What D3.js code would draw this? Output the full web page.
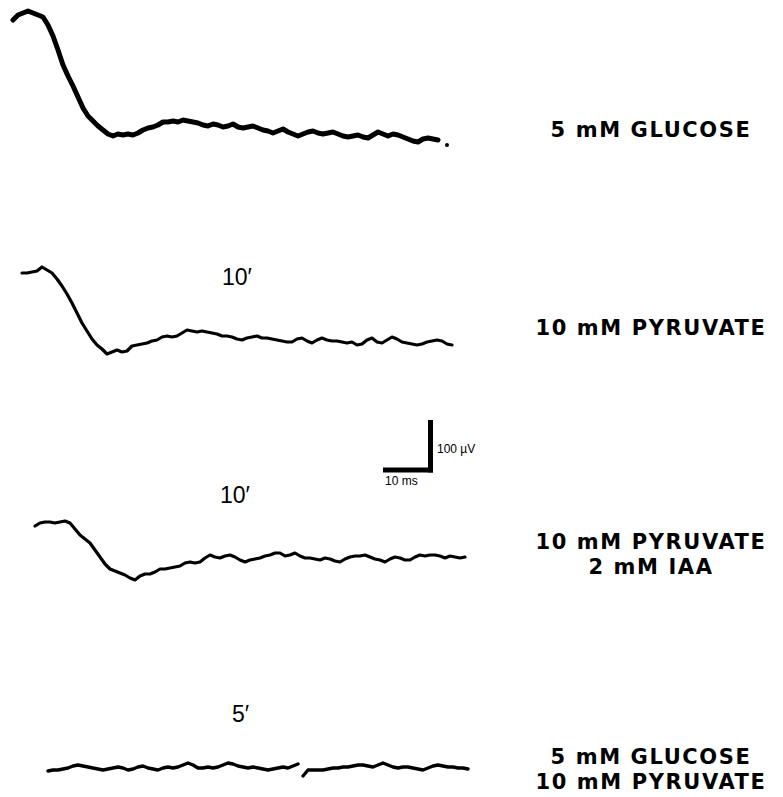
<!DOCTYPE html>
<html lang="en">
<head>
    <meta charset="UTF-8">
    <title>Field potentials</title>
    <script src="https://d3js.org/d3.v7.min.js"></script>
    <style>
        body { margin: 0; background: #fff; }
    </style>
</head>
<body>
<svg id="traces"></svg>

<script>
    // Recorded traces, one sample per ms, values in µV relative to the first sample
    let glucose = [0, 10, 14, 18, 14, 10, 6, -10, -32, -60, -90, -112, -132, -154, -176, -192, -202, -212, -220, -228,
        -232, -228, -230, -228, -230, -226, -220, -216, -214, -210, -204, -204, -202, -204, -200, -202, -204, -206, -210, -212,
        -208, -210, -214, -212, -208, -214, -216, -214, -212, -216, -220, -222, -226, -222, -218, -224, -228, -232, -228, -224,
        -222, -226, -228, -226, -224, -228, -232, -234, -232, -230, -234, -236, -230, -224, -228, -232, -228, -230, -234, -238,
        -242, -244, -238, -236, -238, -240];

    let pyruvate = [0, 0, 2, 4, 12, 6, 0, -12, -26, -42, -60, -80, -100, -116, -132, -144, -152, -162, -158, -154,
        -158, -156, -146, -144, -142, -140, -136, -134, -128, -126, -128, -126, -120, -114, -116, -118, -116, -118, -120, -122,
        -126, -126, -128, -132, -134, -130, -128, -126, -130, -130, -132, -134, -136, -138, -138, -132, -130, -136, -140, -134,
        -130, -134, -136, -136, -138, -140, -138, -144, -142, -134, -130, -138, -140, -134, -128, -132, -138, -140, -142, -144,
        -142, -138, -136, -134, -136, -142, -144];

    let pyruvateIAA = [0, 6, 8, 8, 6, 8, 10, 6, -6, -18, -26, -34, -48, -62, -76, -86, -90, -94, -98, -104,
        -108, -100, -96, -96, -92, -86, -86, -84, -82, -80, -74, -72, -74, -72, -64, -58, -62, -64, -60, -58,
        -62, -68, -72, -68, -66, -64, -60, -58, -54, -54, -60, -58, -54, -60, -64, -64, -66, -68, -64, -66,
        -70, -72, -66, -62, -60, -60, -58, -62, -66, -68, -72, -66, -62, -64, -68, -68, -62, -58, -60, -58,
        -58, -60, -64, -60, -62, -64, -62];

    // last trace has a break in the pen record
    let mixedA = [-2, 0, 0, 2, 4, 8, 10, 8, 6, 4, 2, 0, 2, 4, 6, 4, 0, 2, 6, 8,
        4, 2, 0, 4, 6, 4, 6, 10, 14, 10, 4, 4, 6, 4, 6, 10, 14, 12, 8, 6,
        4, 6, 4, 2, 0, 2, 4, 6, 4, 8, 12];
    let mixedB = [-12, 0, 0, 0, 0, 2, 4, 4, 6, 6, 8, 10, 10, 8, 6, 10, 14, 10, 6, 4,
        6, 6, 4, 2, 0, 4, 8, 10, 8, 6, 6, 4, 4, 2];
    let mixedBStart = 51; // ms after start of mixedA

    let labels = [["5 mM GLUCOSE"], ["10 mM PYRUVATE"], ["10 mM PYRUVATE", "2 mM IAA"], ["5 mM GLUCOSE", "10 mM PYRUVATE"]];
    let times = ["", "10\u2032", "10\u2032", "5\u2032"];

    let width = 783,
        height = 797;

    let svg = d3.select("#traces")
        .attr("width", width)
        .attr("height", height)
        .style("display", "block");

    // 5 px per ms, 0.5 px per µV (from the calibration bar)
    let x = d3.scaleLinear().domain([0, 10]).range([0, 50]);
    let y = d3.scaleLinear().domain([0, -100]).range([0, 50]);

    let line = d3.line()
        .x(function (d) { return x(d[0]); })
        .y(function (d) { return y(d[1]); });

    function toPoints(values, start) {
        return values.map(function (v, i) { return [start + i, v]; });
    }

    let rows = [
        {segments: [toPoints(glucose, 0)], x0: 13, y0: 20, stroke: 5},
        {segments: [toPoints(pyruvate, 0)], x0: 22, y0: 273, stroke: 3.2},
        {segments: [toPoints(pyruvateIAA, 0)], x0: 35, y0: 526, stroke: 3.2},
        {segments: [toPoints(mixedA, 0), toPoints(mixedB, mixedBStart)], x0: 48, y0: 770, stroke: 3.4}
    ];

    rows.forEach(function (r) {
        let g = svg.append("g")
            .attr("transform", "translate(" + r.x0 + "," + r.y0 + ")");
        g.selectAll("path")
            .data(r.segments)
            .enter().append("path")
            .attr("d", line)
            .attr("fill", "none")
            .attr("stroke", "#000")
            .attr("stroke-width", r.stroke)
            .attr("stroke-linejoin", "round")
            .attr("stroke-linecap", "round");
    });

    // stray ink dot after the first trace
    svg.append("circle")
        .attr("cx", 13 + x(86.8))
        .attr("cy", 20 + y(-250))
        .attr("r", 2)
        .attr("fill", "#000");

    // condition labels on the right, one text per line
    let labelY = [[137], [335], [549, 574], [764, 789]];
    labels.forEach(function (lines, i) {
        lines.forEach(function (s, j) {
            svg.append("text")
                .attr("x", 651)
                .attr("y", labelY[i][j])
                .attr("text-anchor", "middle")
                .attr("font-family", "DejaVu Sans, sans-serif")
                .attr("font-weight", "bold")
                .attr("font-size", 21)
                .style("letter-spacing", "1.6px")
                .attr("fill", "#000")
                .text(s);
        });
    });

    // time marks above each trace
    let timeX = [0, 222, 220, 232],
        timeY = [0, 285, 503, 722];
    times.forEach(function (s, i) {
        if (!s) return;
        svg.append("text")
            .attr("x", timeX[i])
            .attr("y", timeY[i])
            .attr("font-family", "Liberation Sans, Arial, sans-serif")
            .attr("font-size", 23)
            .attr("fill", "#000")
            .text(s);
    });

    // calibration bar: 10 ms, 100 µV
    let cal = svg.append("g").attr("transform", "translate(433,470)");
    cal.append("line")
        .attr("x1", -x(10)).attr("x2", 0)
        .attr("y1", 0).attr("y2", 0)
        .attr("stroke", "#000").attr("stroke-width", 5);
    cal.append("line")
        .attr("x1", -2.5).attr("x2", -2.5)
        .attr("y1", 2.5).attr("y2", -y(-100))
        .attr("stroke", "#000").attr("stroke-width", 5);
    cal.append("text")
        .attr("x", 4).attr("y", -17)
        .attr("font-family", "Liberation Sans Narrow, Arial, sans-serif")
        .attr("font-size", 12)
        .text("100 \u00b5V");
    cal.append("text")
        .attr("x", -48).attr("y", 15)
        .attr("font-family", "Liberation Sans Narrow, Arial, sans-serif")
        .attr("font-size", 12)
        .text("10 ms");
</script>
</body>
</html>
